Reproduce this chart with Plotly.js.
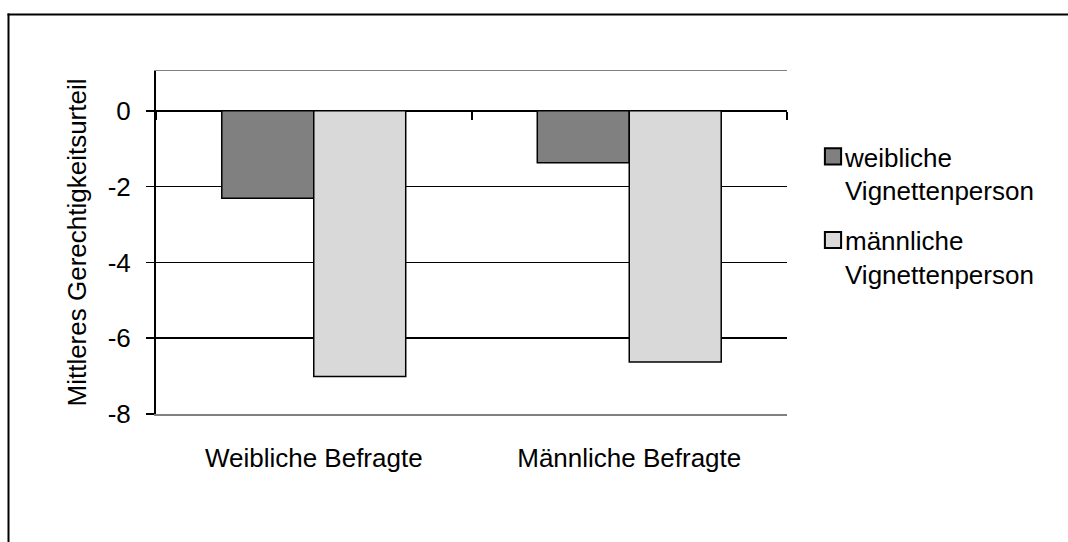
<!DOCTYPE html>
<html>
<head>
<meta charset="utf-8">
<script src="https://cdn.plot.ly/plotly-3.0.1.min.js"></script>
<style>
  html, body { margin: 0; padding: 0; background: #ffffff; }
  #chart { width: 1068px; height: 542px; }
  .legend .legendpoints path { transform: translate(28px, 0px) scale(1.35); }
</style>
</head>
<body>
<div id="chart"></div>
<script>
// ---- data ----
const categories = ['Weibliche Befragte', 'Männliche Befragte'];
const seriesNames = ['weibliche<br>Vignettenperson', 'männliche<br>Vignettenperson'];
const weiblicheVignettenperson = [-2.31, -1.37];
const maennlicheVignettenperson = [-7.01, -6.63];
const yTickVals = [-8, -6, -4, -2, 0];
const yTickText = ['-8', '-6', '-4', '-2', '0'];
const yAxisTitle = 'Mittleres Gerechtigkeitsurteil';

// ---- layout constants ----
const W = 1068, H = 542;
const M = { l: 156, r: 281, t: 71, b: 128 };
const yRange = [-8, 1.05];
const FONT = 'Liberation Sans, Arial, sans-serif';
const plotW = W - M.l - M.r, plotH = H - M.t - M.b;
const px2x = p => (p - M.l) / plotW;
const px2y = p => (H - M.b - p) / plotH;

const traces = [
  {
    type: 'bar', name: seriesNames[0], x: categories, y: weiblicheVignettenperson,
    marker: { color: '#808080', line: { color: '#000000', width: 1.5 } },
    legendgroup: 'a', hoverinfo: 'skip'
  },
  {
    type: 'bar', name: seriesNames[1], x: categories, y: maennlicheVignettenperson,
    marker: { color: '#d9d9d9', line: { color: '#000000', width: 1.5 } },
    legendgroup: 'b', hoverinfo: 'skip'
  },
  {
    type: 'scatter', mode: 'markers', x: categories, y: categories.map(() => null),
    xaxis: 'x2', showlegend: false, hoverinfo: 'skip'
  }
];

const layout = {
  width: W, height: H,
  margin: M,
  paper_bgcolor: '#ffffff', plot_bgcolor: '#ffffff',
  font: { family: FONT, size: 26, color: '#000000' },
  barmode: 'group', bargap: 0.417, bargroupgap: 0,
  showlegend: true,
  legend: {
    x: px2x(805), xanchor: 'left',
    y: px2y(133), yanchor: 'top',
    valign: 'top', traceorder: 'grouped', tracegroupgap: 13,
    font: { family: FONT, size: 26, color: '#000000' },
    bgcolor: 'rgba(0,0,0,0)', borderwidth: 0
  },
  xaxis: {
    type: 'category', categoryarray: categories, range: [-0.5, 1.5],
    showline: true, linecolor: '#808080', linewidth: 1.5, mirror: true,
    ticks: '', showgrid: false, zeroline: false,
    tickfont: { family: FONT, size: 26, color: '#000000' },
    ticklabelstandoff: 20, automargin: false
  },
  xaxis2: {
    type: 'category', categoryarray: categories, range: [-0.5, 1.5],
    overlaying: 'x', anchor: 'free',
    position: (0 - yRange[0]) / (yRange[1] - yRange[0]),
    showline: false, showgrid: false, zeroline: false,
    ticks: 'outside', tickson: 'boundaries', ticklen: 8, tickwidth: 2, tickcolor: '#000000',
    showticklabels: false, automargin: false
  },
  yaxis: {
    range: yRange, tickvals: yTickVals, ticktext: yTickText,
    showline: true, linecolor: '#000000', linewidth: 2,
    ticks: 'outside', ticklen: 8, tickwidth: 1.5, tickcolor: '#000000',
    showgrid: true, gridcolor: '#000000', gridwidth: 1.5,
    zeroline: true, zerolinecolor: '#000000', zerolinewidth: 1.5,
    tickfont: { family: FONT, size: 26, color: '#000000' },
    ticklabelstandoff: 10,
    title: { text: yAxisTitle, font: { family: FONT, size: 26, color: '#000000' }, standoff: 14 },
    automargin: false
  },
  shapes: [
    { type: 'line', xref: 'paper', yref: 'paper', x0: px2x(8.5), x1: px2x(8.5), y0: px2y(13.5), y1: px2y(560),
      line: { color: '#000000', width: 2 } },
    { type: 'line', xref: 'paper', yref: 'paper', x0: px2x(7.5), x1: px2x(1100), y0: px2y(14.5), y1: px2y(14.5),
      line: { color: '#000000', width: 2 } }
  ],
  hovermode: false
};

Plotly.newPlot('chart', traces, layout, { staticPlot: true, displayModeBar: false });
</script>
</body>
</html>
